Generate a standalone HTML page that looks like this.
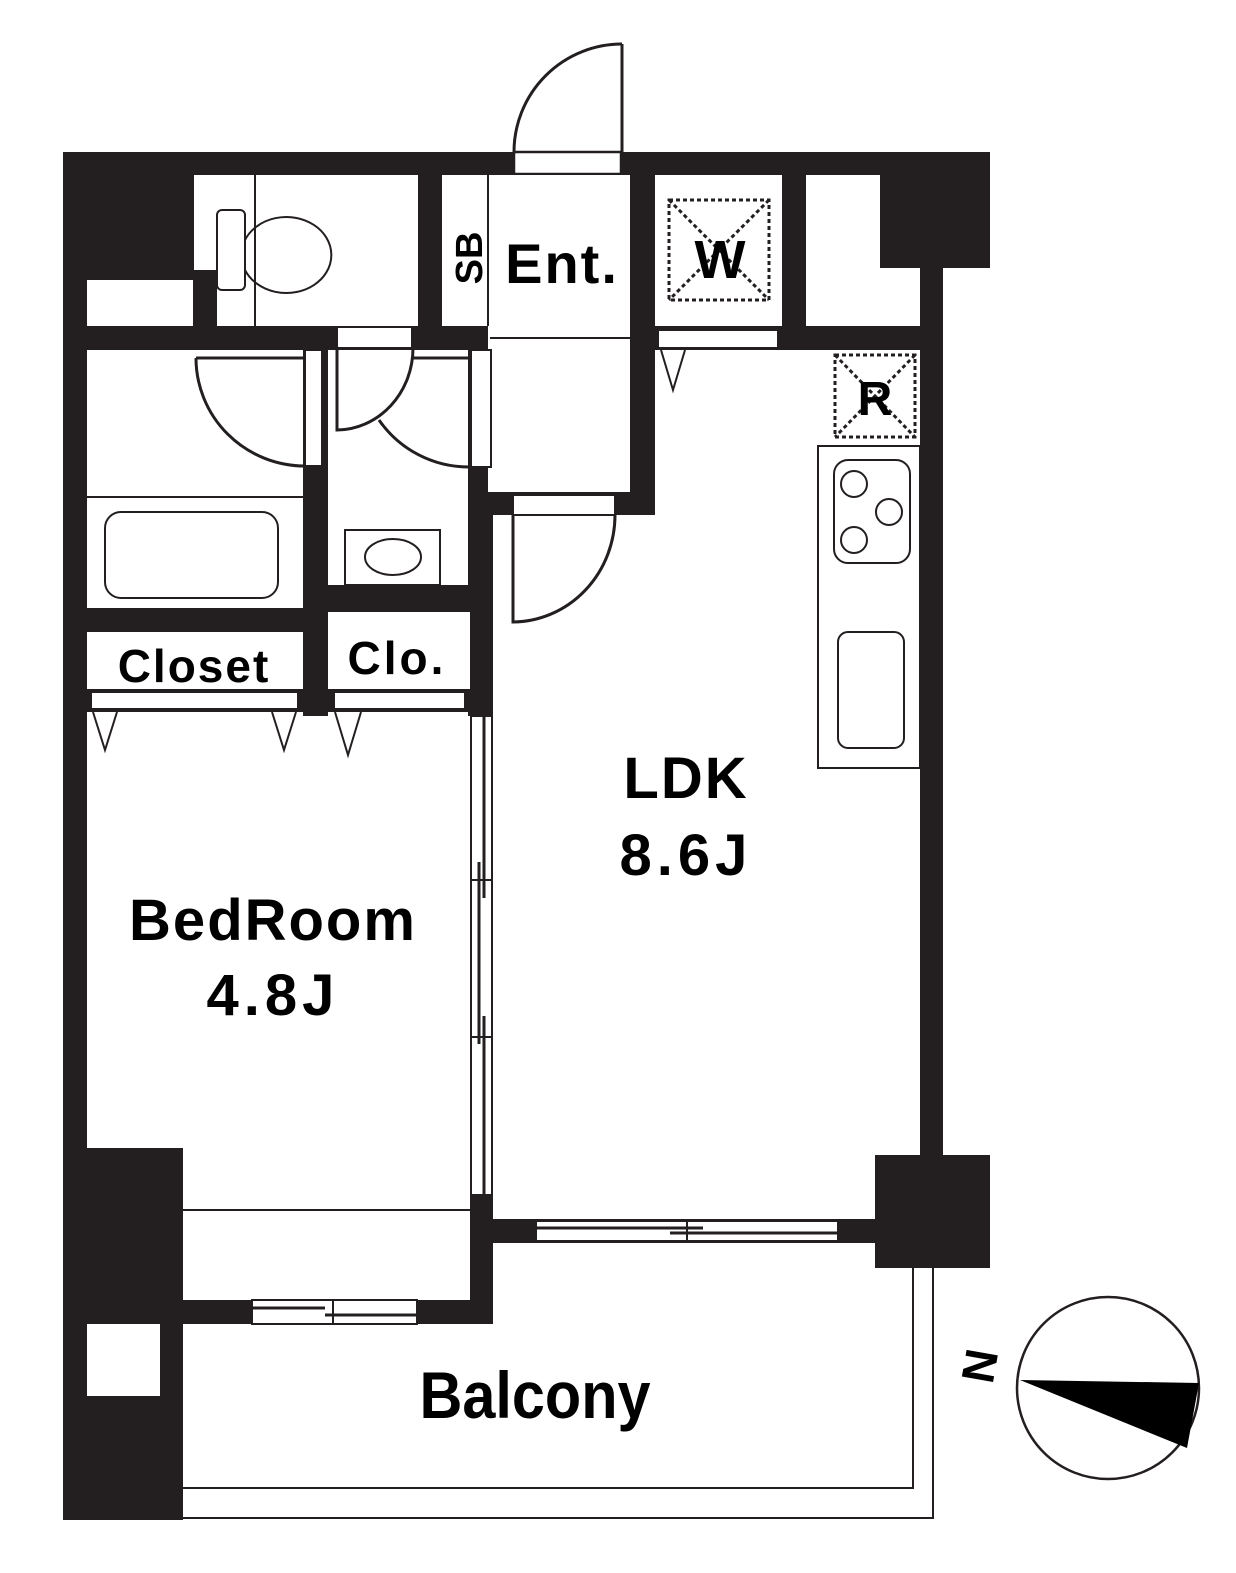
<!DOCTYPE html>
<html><head><meta charset="utf-8"><style>
html,body{margin:0;padding:0;background:#fff;}
svg{display:block;}
text{font-family:"Liberation Sans",sans-serif;font-weight:bold;fill:#000;}
</style></head><body>
<svg width="1236" height="1573" viewBox="0 0 1236 1573" xmlns="http://www.w3.org/2000/svg">
<rect width="1236" height="1573" fill="#fff"/>
<g fill="#231f20">
<rect x="63" y="152" width="927" height="23"/>
<rect x="880" y="152" width="110" height="116"/>
<rect x="920" y="152" width="23" height="1010"/>
<rect x="63" y="152" width="24" height="1368"/>
<rect x="63" y="152" width="131" height="128"/>
<rect x="193" y="270" width="24" height="60"/>
<rect x="418" y="152" width="24" height="180"/>
<rect x="63" y="326" width="430" height="24"/>
<rect x="630" y="152" width="25" height="363"/>
<rect x="782" y="152" width="24" height="180"/>
<rect x="630" y="326" width="300" height="24"/>
<rect x="468" y="326" width="25" height="390"/>
<rect x="468" y="492" width="187" height="23"/>
<rect x="303" y="326" width="25" height="390"/>
<rect x="63" y="608" width="260" height="24"/>
<rect x="303" y="585" width="190" height="27"/>
<rect x="63" y="689" width="430" height="23"/>
<rect x="63" y="1148" width="120" height="372"/>
<rect x="183" y="1300" width="310" height="24"/>
<rect x="470" y="1195" width="23" height="129"/>
<rect x="470" y="1219" width="420" height="24"/>
<rect x="875" y="1155" width="115" height="113"/>
</g>
<g fill="#fff" stroke="#231f20" stroke-width="2">
<rect x="514" y="152" width="107" height="22" stroke-width="2.5"/>
<rect x="87" y="280" width="106" height="46" stroke="none"/>
<rect x="217" y="175" width="201" height="151" stroke="none"/>
<rect x="442" y="175" width="46" height="151" stroke="none"/>
<rect x="488" y="175" width="142" height="317" stroke="none"/>
<rect x="655" y="175" width="127" height="151" stroke="none"/>
<rect x="806" y="175" width="74" height="151" stroke="none"/>
<rect x="880" y="268" width="40" height="58" stroke="none"/>
<rect x="658" y="330" width="120" height="18"/>
<rect x="337" y="327" width="75" height="21"/>
<rect x="305" y="350" width="17" height="116"/>
<rect x="471" y="350" width="20" height="117"/>
<rect x="87" y="632" width="215" height="57" stroke="none"/>
<rect x="328" y="612" width="142" height="77" stroke="none"/>
<rect x="91" y="692" width="207" height="17"/>
<rect x="334" y="692" width="131" height="17"/>
<rect x="513" y="495" width="102" height="20"/>
<rect x="87" y="1324" width="73" height="72" stroke="none"/>
<rect x="471" y="716" width="21" height="479"/>
<rect x="252" y="1300" width="165" height="24"/>
<rect x="536" y="1221" width="302" height="20"/>
</g>
<g fill="none" stroke="#231f20" stroke-width="2">
<line x1="255" y1="175" x2="255" y2="326"/>
<line x1="488" y1="175" x2="488" y2="326"/>
<line x1="490" y1="338" x2="630" y2="338"/>
<line x1="87" y1="497" x2="303" y2="497"/>
<line x1="183" y1="1210" x2="470" y2="1210"/>
<line x1="252" y1="1308" x2="325" y2="1308" stroke-width="3"/>
<line x1="325" y1="1315" x2="417" y2="1315" stroke-width="3"/>
<line x1="333" y1="1300" x2="333" y2="1324"/>
<line x1="536" y1="1228" x2="703" y2="1228" stroke-width="3"/>
<line x1="670" y1="1233" x2="838" y2="1233" stroke-width="3"/>
<line x1="687" y1="1219" x2="687" y2="1243"/>
<line x1="484" y1="716" x2="484" y2="898" stroke-width="3"/>
<line x1="479" y1="862" x2="479" y2="1044" stroke-width="3"/>
<line x1="484" y1="1016" x2="484" y2="1195" stroke-width="3"/>
<line x1="471" y1="880" x2="492" y2="880"/>
<line x1="471" y1="1037" x2="492" y2="1037"/>
<line x1="622" y1="44" x2="622" y2="152" stroke-width="3"/>
<path d="M622 44 A108 108 0 0 0 514 152" stroke-width="3"/>
<path d="M196 358 L305 358 M196 358 A109 108 0 0 0 305 466" stroke-width="3"/>
<path d="M337 348 L337 430 A77 82 0 0 0 413 348" stroke-width="3"/>
<path d="M413 358 L470 358 M379 420 A109 109 0 0 0 470 467" stroke-width="3"/>
<path d="M513 515 L513 622 A103 107 0 0 0 615 515" stroke-width="3"/>
<rect x="217" y="210" width="28" height="80" rx="5"/>
<path d="M245 240 A45 38 0 1 1 245 270" />
<rect x="105" y="512" width="173" height="86" rx="16"/>
<rect x="345" y="530" width="95" height="55"/>
<ellipse cx="393" cy="557" rx="28" ry="18"/>
<rect x="818" y="446" width="102" height="322"/>
<rect x="834" y="460" width="76" height="103" rx="14"/>
<circle cx="854" cy="484" r="13"/>
<circle cx="889" cy="512" r="13"/>
<circle cx="854" cy="540" r="13"/>
<rect x="838" y="632" width="66" height="116" rx="10"/>
<path d="M93 712 L105 750 L117 712" />
<path d="M272 712 L284 750 L296 712" />
<path d="M335 712 L348 755 L361 712" />
<path d="M661 350 L673 390 L685 350" />
<path d="M183 1488 L913 1488 L913 1268"/>
<path d="M183 1518 L933 1518 L933 1268"/>
<g stroke-dasharray="4 3" stroke-width="3">
<rect x="669" y="200" width="100" height="100"/>
<line x1="669" y1="200" x2="769" y2="300"/>
<line x1="769" y1="200" x2="669" y2="300"/>
<rect x="835" y="355" width="80" height="82"/>
<line x1="835" y1="355" x2="915" y2="437"/>
<line x1="915" y1="355" x2="835" y2="437"/>
</g>
<circle cx="1108" cy="1388" r="91" stroke-width="2.5"/>
</g>
<polygon points="1020,1380 1199,1383 1187,1448" fill="#000"/>
<g text-anchor="middle">
<text x="720" y="278" font-size="54">W</text>
<text x="875" y="415" font-size="48">R</text>
<text x="562" y="283" font-size="56" letter-spacing="2">Ent.</text>
<text transform="translate(482,258) rotate(-90)" font-size="38">SB</text>
<text x="194" y="682" font-size="46" letter-spacing="2">Closet</text>
<text x="397" y="674" font-size="46" letter-spacing="3">Clo.</text>
<text x="273" y="940" font-size="58" letter-spacing="2">BedRoom</text>
<text x="273" y="1015" font-size="58" letter-spacing="5">4.8J</text>
<text x="686" y="798" font-size="58" letter-spacing="2">LDK</text>
<text x="686" y="875" font-size="58" letter-spacing="5">8.6J</text>
<text transform="translate(535,1418) scale(0.9,1)" font-size="66">Balcony</text>
<text transform="translate(980,1366) rotate(100)" font-size="46" dominant-baseline="central">N</text>
</g>
</svg>
</body></html>
